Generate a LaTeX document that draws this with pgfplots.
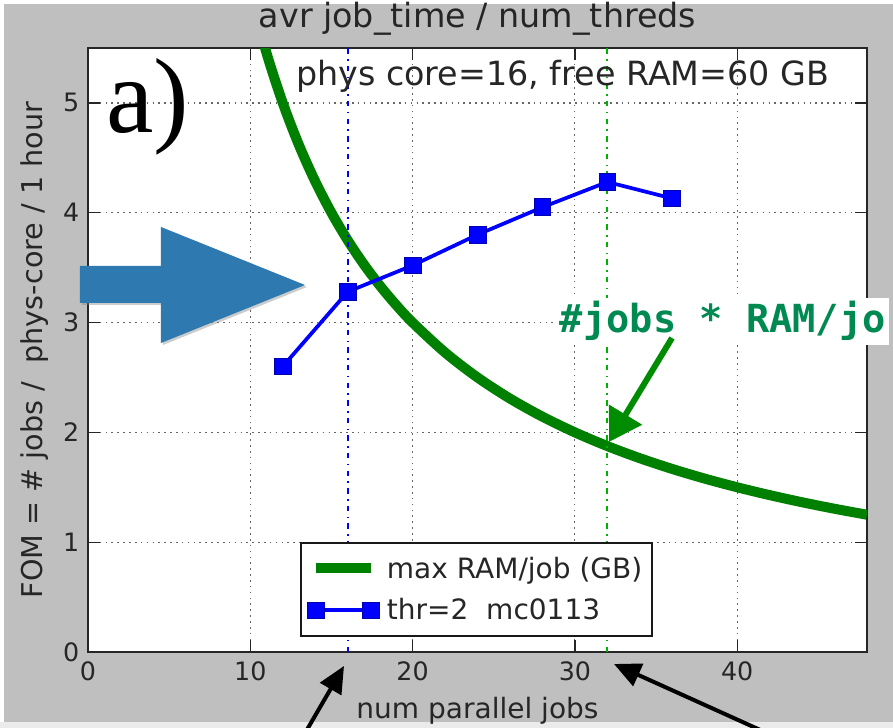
\documentclass[border=0pt]{standalone}
\usepackage{fontspec}
\setmainfont{DejaVu Sans}
\newfontfamily\monofont{DejaVu Sans Mono}
\newfontfamily\serifont{Liberation Serif}
\usepackage{pgfplots}
\pgfplotsset{compat=1.18}
\usetikzlibrary{arrows.meta,shadows}
\definecolor{bggray}{RGB}{191,191,191}
\definecolor{mplgreen}{RGB}{0,128,0}
\definecolor{annogreen}{RGB}{0,138,82}
\definecolor{arrowgreen}{RGB}{0,140,0}
\definecolor{bigblue}{RGB}{46,122,176}
\pgfplotsset{blueleg/.style={legend image code/.code={\draw[##1] plot coordinates {(0pt,0pt) (41pt,0pt)};}},
  greenleg/.style={legend image code/.code={\draw[##1] (0pt,0pt) -- (41pt,0pt);}}}
\begin{document}
\begin{tikzpicture}
\begin{scope}[x=0.75pt,y=-0.75pt,shift={(-66pt,489pt)}]
\fill[bggray] (4,4) rectangle (893,722);
\fill[black!8] (0,722) rectangle (893,728);
\end{scope}
\begin{axis}[
  at={(0,0)}, anchor=south west,
  scale only axis, width=584.25pt, height=453pt,
  xmin=0, xmax=48, ymin=0, ymax=5.5,
  xtick={0,10,20,30,40}, ytick={0,1,2,3,4,5},
  axis background/.style={fill=white},
  grid=major,
  major grid style={black!60, line width=0.9pt, dash pattern=on 1.2pt off 3.2pt},
  axis line style={line width=1.4pt, black!85},
  tick align=inside,
  major tick length=9pt,
  every tick/.style={line width=1pt, black!85},
  /pgf/number format/assume math mode=true,
  ticklabel style={font=\fontsize{19}{22}\selectfont, text=black!85},
  xticklabel style={yshift=-4pt},
  yticklabel style={xshift=-3pt},
  title={avr job\_time / num\_threds},
  title style={at={(0.5,1.0215)}, anchor=base, font=\fontsize{25}{28}\selectfont, text=black!85},
  xlabel={num parallel jobs},
  xlabel style={at={(0.5,-0.11)}, anchor=base, font=\fontsize{21}{24}\selectfont, text=black!85},
  ylabel={FOM = \# jobs /\ \ phys-core / 1 hour},
  ylabel style={at={(-0.059,0.5)}, anchor=base, font=\fontsize{21.5}{24}\selectfont, text=black!85},
  legend style={at={(0.272,0.025)}, anchor=south west, draw=black!90, line width=1.4pt,
    fill=white, font=\fontsize{21}{24}\selectfont, text=black!85, cells={anchor=west},
    inner xsep=5pt, inner ysep=8.5pt, row sep=10pt,
    /tikz/every odd column/.append style={column sep=4pt}},
  legend cell align=left,
]
\addplot[mplgreen, line width=7.5pt, smooth, greenleg] coordinates {
 (10,6) (11,5.4545) (12,5) (13,4.6154) (14,4.2857) (15,4) (16,3.75) (17,3.5294)
 (18,3.3333) (19,3.1579) (20,3) (22,2.7273) (24,2.5) (26,2.3077) (28,2.1429)
 (30,2) (32,1.875) (34,1.7647) (36,1.6667) (38,1.5789) (40,1.5) (42,1.4286)
 (44,1.3636) (46,1.3043) (48,1.25)};
\addlegendentry{max RAM/job (GB)}
\addplot[blue, line width=1.5pt, dash pattern=on 4pt off 4pt on 1.2pt off 4pt, forget plot] coordinates {(16,0) (16,5.5)};
\addplot[green!70!black, line width=1.5pt, dash pattern=on 4pt off 4pt on 1.2pt off 4pt, forget plot] coordinates {(32,0) (32,5.5)};
\addplot[blue, line width=2.8pt, mark=square*, mark size=6.3pt, mark options={solid, fill=blue, draw=blue!70!black, line width=0.6pt}, blueleg] coordinates {
 (12,2.60) (16,3.28) (20,3.52) (24,3.80) (28,4.05) (32,4.28) (36,4.13)};
\addlegendentry{thr=2\ \ mc0113}
\end{axis}
\begin{scope}[x=0.75pt,y=-0.75pt,shift={(-66pt,489pt)}]
\node[anchor=base west, inner sep=0pt, text=black!85, font=\fontsize{25}{28}\selectfont] at (296,86) {phys core=16, free RAM=60 GB};
\node[anchor=base west, inner sep=0pt, font=\serifont\fontsize{80}{80}\selectfont] at (106,133) {a)};
\fill[bigblue, drop shadow={shadow xshift=1.5pt, shadow yshift=-1.5pt, opacity=0.4}] (80,266) -- (161,266) -- (161,227) -- (305,285) -- (161,343) -- (161,303) -- (80,303) -- cycle;
\node[anchor=base west, fill=white, inner xsep=2pt, inner ysep=3pt, text=annogreen, font=\monofont\bfseries\fontsize{29}{32}\selectfont] at (557,333) {\#jobs * RAM/jo};
\draw[arrowgreen, line width=4.5pt, -{Triangle[length=24pt,width=28pt]}] (672,338) -- (609,442);
\draw[black, line width=3pt, -{Triangle[length=20pt,width=18pt]}] (301,740) -- (344,666);
\draw[black, line width=3pt, -{Triangle[length=20pt,width=18pt]}] (778,738) -- (614,664);
\pgfresetboundingbox
\path[use as bounding box] (0,0) rectangle (893,728);
\end{scope}
\end{tikzpicture}
\end{document}
